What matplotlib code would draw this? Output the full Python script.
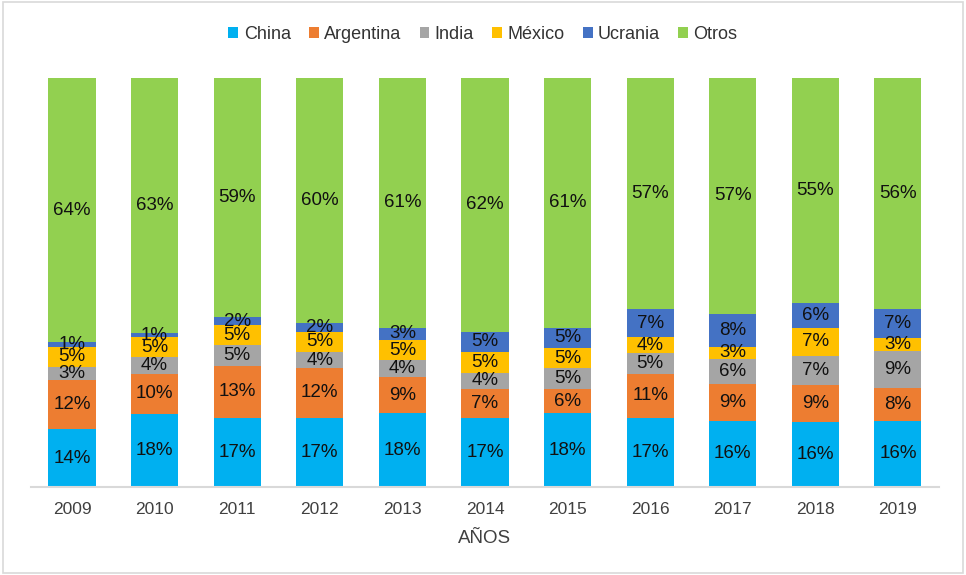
import matplotlib
matplotlib.use("Agg")
import matplotlib.pyplot as plt
from matplotlib.patches import Rectangle, Patch
import numpy as np

plt.rcParams['font.family'] = ['Liberation Sans', 'DejaVu Sans']

years = ['2009', '2010', '2011', '2012', '2013', '2014', '2015', '2016', '2017', '2018', '2019']
series = ['China', 'Argentina', 'India', 'México', 'Ucrania', 'Otros']
china     = [14, 18, 17, 17, 18, 17, 18, 17, 16, 16, 16]
argentina = [12, 10, 13, 12, 9, 7, 6, 11, 9, 9, 8]
india     = [3, 4, 5, 4, 4, 4, 5, 5, 6, 7, 9]
mexico    = [5, 5, 5, 5, 5, 5, 5, 4, 3, 7, 3]
ucrania   = [1, 1, 2, 2, 3, 5, 5, 7, 8, 6, 7]
otros     = [64, 63, 59, 60, 61, 62, 61, 57, 57, 55, 56]
colors = ['#00B0F0', '#ED7D31', '#A5A5A5', '#FFC000', '#4472C4', '#92D050']

data = np.array([china, argentina, india, mexico, ucrania, otros], dtype=float)
totals = data.sum(axis=0)
share = data / totals * 100

fig = plt.figure(figsize=(9.66, 5.75), dpi=100)
ax = fig.add_axes([0.0318, 0.153, 0.9405, 0.711])
x = np.arange(len(years))
bottom = np.zeros(len(years))
for i, name in enumerate(series):
    ax.bar(x, share[i], 0.57, bottom=bottom, color=colors[i], label=name, zorder=2)
    for j in range(len(years)):
        ax.text(x[j], bottom[j] + share[i][j] / 2, f"{int(data[i][j])}%",
                ha='center', va='center', fontsize=13.5, color='#111111', zorder=3)
    bottom += share[i]

ax.set_xlim(-0.5, len(years) - 0.5)
ax.set_ylim(0, 100)
ax.set_yticks([])
ax.set_xticks(x)
ax.set_xticklabels(years, fontsize=12.5, color='#404040')
ax.tick_params(axis='x', length=0, pad=11)
for s in ['top', 'right', 'left']:
    ax.spines[s].set_visible(False)
ax.spines['bottom'].set_color('#D9D9D9')
ax.spines['bottom'].set_linewidth(1.5)
ax.set_xlabel('AÑOS', fontsize=13.5, color='#404040', labelpad=9)

handles = [Patch(facecolor=c, label=n) for c, n in zip(colors, series)]
fig.legend(handles=handles, loc='center', bbox_to_anchor=(0.5, 0.94), ncol=6,
           frameon=False, fontsize=13, handlelength=0.55, handleheight=0.55,
           handletextpad=0.3, columnspacing=1.0, labelcolor='#333333')

fig.patches.append(Rectangle((0.003, 0.004), 0.994, 0.992, transform=fig.transFigure,
                             fill=False, edgecolor='#D9D9D9', linewidth=1.2))

fig.savefig('out.png', dpi=100)
